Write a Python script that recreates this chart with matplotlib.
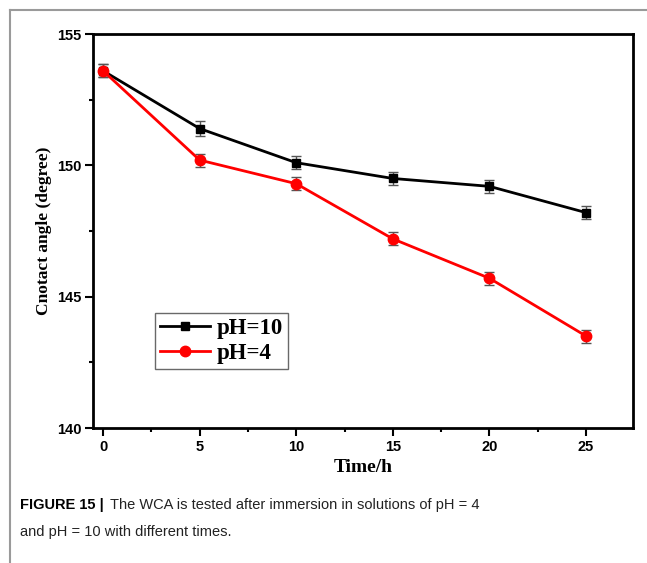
"""Contact angle vs immersion time for pH 4 and pH 10 solutions."""

import matplotlib.pyplot as plt
from matplotlib.lines import Line2D

time_h = [0, 5, 10, 15, 20, 25]
ph10_angle = [153.6, 151.4, 150.1, 149.5, 149.2, 148.2]
ph10_err = [0.25, 0.3, 0.25, 0.25, 0.25, 0.25]
ph4_angle = [153.6, 150.2, 149.3, 147.2, 145.7, 143.5]
ph4_err = [0.25, 0.25, 0.25, 0.25, 0.25, 0.25]
series_labels = ["pH=10", "pH=4"]

SERIF = "Liberation Serif"
SANS = "Liberation Sans"

fig = plt.figure(figsize=(6.47, 5.63), dpi=100)
ax = fig.add_axes([93 / 647, 1 - 428 / 563, 540 / 647, 394 / 563])

ax.errorbar(time_h, ph10_angle, yerr=ph10_err, color="black", marker="s",
            markersize=5.5, linewidth=2, ecolor="#555555", elinewidth=1,
            capsize=3.5, capthick=1, label=series_labels[0], zorder=3)
ax.errorbar(time_h, ph4_angle, yerr=ph4_err, color="red", marker="o",
            markersize=7.5, linewidth=2, ecolor="#555555", elinewidth=1,
            capsize=3.5, capthick=1, label=series_labels[1], zorder=3)

ax.set_xlim(-0.52, 27.43)
ax.set_ylim(140, 155)
ax.set_xticks([0, 5, 10, 15, 20, 25])
ax.set_xticks([2.5, 7.5, 12.5, 17.5, 22.5], minor=True)
ax.set_yticks([140, 145, 150, 155])
ax.set_yticks([142.5, 147.5, 152.5], minor=True)
ax.tick_params(which="both", direction="out", width=1.5, top=False, right=False)
ax.tick_params(which="major", length=5.5, pad=3)
ax.tick_params(which="minor", length=3)
for lbl in ax.get_xticklabels() + ax.get_yticklabels():
    lbl.set_fontfamily(SANS)
    lbl.set_fontweight("bold")
    lbl.set_fontsize(10.5)
for sp in ax.spines.values():
    sp.set_linewidth(2)

ax.set_xlabel("Time/h", fontfamily=SERIF, fontweight="bold", fontsize=14, labelpad=4)
ax.set_ylabel("Cnotact angle (degree)", fontfamily=SERIF, fontweight="bold",
              fontsize=12.5)
ax.yaxis.set_label_coords(-0.075, 0.5)

handles = [
    Line2D([], [], color="black", marker="s", markersize=5.5, linewidth=2),
    Line2D([], [], color="red", marker="o", markersize=7.5, linewidth=2),
]
leg = ax.legend(handles, series_labels, loc="upper left",
                bbox_to_anchor=(0.115, 0.292), frameon=True, fancybox=False,
                edgecolor="#444444", borderpad=0.2, handlelength=2.2,
                handletextpad=0.3, labelspacing=0.2, borderaxespad=0,
                prop={"family": SERIF, "weight": "bold", "size": 16.5})
leg.get_frame().set_linewidth(1)

# outer frame of the figure panel
fig.add_artist(Line2D([10 / 647, 1], [1 - 10 / 563, 1 - 10 / 563],
                      color="#9a9a9a", linewidth=1.5, transform=fig.transFigure))
fig.add_artist(Line2D([10 / 647, 10 / 647], [0, 1 - 10 / 563],
                      color="#9a9a9a", linewidth=1.5, transform=fig.transFigure))

cap_size = 10.5
fig.text(20 / 647, 1 - 505 / 563, "FIGURE 15 |", fontsize=cap_size,
         fontfamily=SANS, fontweight="bold", va="center")
fig.text(110 / 647, 1 - 505 / 563,
         "The WCA is tested after immersion in solutions of pH = 4",
         fontsize=cap_size, fontfamily=SANS, va="center", color="#222222")
fig.text(20 / 647, 1 - 532 / 563, "and pH = 10 with different times.",
         fontsize=cap_size, fontfamily=SANS, va="center", color="#222222")

fig.savefig("out.png", dpi=100)
